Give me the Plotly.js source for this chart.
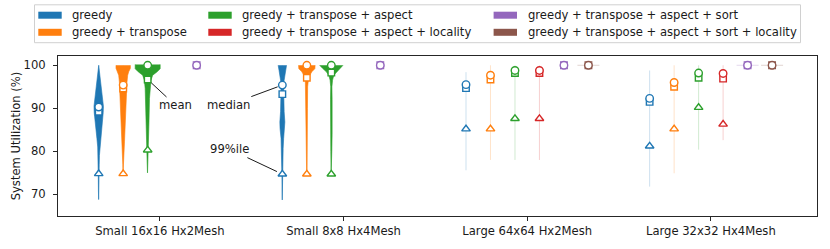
<!DOCTYPE html>
<html><head><meta charset="utf-8">
<script src="https://cdn.plot.ly/plotly-3.0.1.min.js"></script>
<style>html,body{margin:0;padding:0;background:#fff;}#chart{width:830px;height:249px;}</style>
</head><body><div id="chart"></div>
<script>
// ---------------- data ----------------
const categories = ['Small 16x16 Hx2Mesh', 'Small 8x8 Hx4Mesh', 'Large 64x64 Hx2Mesh', 'Large 32x32 Hx4Mesh'];
const seriesNames = [
  'greedy',
  'greedy + transpose',
  'greedy + transpose + aspect',
  'greedy + transpose + aspect + locality',
  'greedy + transpose + aspect + sort',
  'greedy + transpose + aspect + sort + locality'
];
const seriesColors = ['#1f77b4', '#ff7f0e', '#2ca02c', '#d62728', '#9467bd', '#8c564b'];
const seriesRGB = ['31,119,180', '255,127,14', '44,160,44', '214,39,40', '148,103,189', '140,86,75'];

// rows = series, cols = categories
const medians = [
  [90.3, 95.4, 95.5, 92.3],
  [95.4, 100, 97.7, 96.0],
  [100, 100, 98.8, 98.2],
  [null, null, 98.8, 98.1],
  [100, 100, 100, 100],
  [null, null, 100, 100]
];
const means = [
  [89.2, 93.3, 94.7, 91.5],
  [94.6, 97.1, 96.7, 95.0],
  [96.7, 98.3, 98.2, 97.1],
  [null, null, 98.2, 96.9],
  [100, 100, 100, 100],
  [null, null, 100, 100]
];
const p99s = [
  [74.8, 74.7, 85.2, 81.2],
  [74.8, 74.7, 85.2, 85.2],
  [80.3, 74.7, 87.6, 90.2],
  [null, null, 87.6, 86.3],
  [null, null, null, null],
  [null, null, null, null]
];
const mins = [
  [68.8, 68.7, 75.6, 71.8],
  [75.0, 74.7, 78.0, 74.9],
  [75.0, 74.7, 78.0, 80.4],
  [null, null, 78.0, 82.6],
  [100, 100, 100, 100],
  [null, null, 100, 100]
];
const maxs = [
  [100, 100, 98.4, 98.8],
  [100, 100, 100, 100],
  [100, 100, 100, 100],
  [null, null, 100, 100],
  [100, 100, 100, 100],
  [null, null, 100, 100]
];

// violin density profiles (small meshes)
const violinSeries = [0, 1, 2, 0, 1, 2];
const violinGroups = [0, 0, 0, 1, 1, 1];
const violinLevels = [
  [100, 98, 96, 94, 92, 90.5, 89, 87, 85, 83, 81, 79, 77, 74, 71, 68.8],
  [100, 99.3, 98.5, 97.7, 96.1, 92.3, 88.4, 85.4, 82.2, 79.1, 77, 75],
  [100.2, 99.2, 98.5, 97.7, 96.5, 94.6, 92.3, 86.8, 82.2, 78, 75],
  [100, 98.8, 97.7, 96.1, 94.6, 91.5, 89.2, 86.8, 85.3, 83, 80.7, 77, 74, 71, 68.7],
  [100, 99.2, 98.5, 97.7, 96.5, 95, 90, 85, 80, 75],
  [100, 99.2, 98.5, 97.7, 96.5, 95, 92, 88, 84, 80, 75]
];
const violinDensity = [
  [0, 0.9, 1.8, 2.9, 4.0, 4.7, 4.5, 3.8, 2.8, 1.8, 1.0, 0.7, 0.5, 0.4, 0.3, 0.1],
  [7.2, 7.2, 5.5, 4.5, 3.8, 3.3, 2.7, 2.0, 1.3, 0.7, 0.4, 0.15],
  [12.5, 12.5, 9.5, 5.0, 3.3, 2.5, 1.8, 1.3, 1.0, 0.6, 0.2],
  [4.2, 3.3, 2.2, 1.5, 1.3, 1.3, 1.8, 2.5, 2.3, 1.3, 0.8, 0.5, 0.4, 0.3, 0.1],
  [8.3, 8.0, 5.0, 3.0, 1.5, 0.8, 0.6, 0.6, 0.5, 0.2],
  [11.7, 8.3, 5.0, 2.5, 1.2, 0.6, 0.8, 1.0, 0.8, 0.5, 0.2]
];
// degenerate (constant) violins drawn as flat strokes: [series, group]
const flatViolins = [[5, 2], [4, 3], [5, 3]];
const flatDensity = 11;

// ---------------- layout helpers ----------------
const W = 830, H = 249;
const M = {l: 58, r: 13, t: 56, b: 33};
const PW = W - M.l - M.r, PH = H - M.t - M.b;
const XR = [-0.555, 3.578];
const YR = [64.97, 102.16];
const slot = 0.8 / seriesNames.length;
const densToX = (XR[1] - XR[0]) / PW; // density units are px-like
const pos = (g, s) => g + (s - (seriesNames.length - 1) / 2) * slot;
const px2x = px => (px - M.l) / PW;
const px2y = py => (M.t + PH - py) / PH;

const FONT = 'DejaVu Sans, Verdana, sans-serif';
const FS = 11.6;
const TXT = '#1a1a1a';
const traces = [];

// range (min-max) lines
for (let s = 0; s < seriesNames.length; s++) {
  const xs = [], ys = [];
  for (let g = 0; g < categories.length; g++) {
    if (mins[s][g] == null || mins[s][g] === maxs[s][g]) continue;
    xs.push(pos(g, s), pos(g, s), null);
    ys.push(mins[s][g], maxs[s][g], null);
  }
  traces.push({type: 'scatter', mode: 'lines', x: xs, y: ys, showlegend: false, hoverinfo: 'skip',
    line: {color: 'rgba(' + seriesRGB[s] + ',0.22)', width: 1}});
}
// flat violins
flatViolins.forEach(([s, g]) => {
  const c = pos(g, s), hw = flatDensity * densToX;
  traces.push({type: 'scatter', mode: 'lines', x: [c - hw, c + hw], y: [maxs[s][g], maxs[s][g]],
    showlegend: false, hoverinfo: 'skip', line: {color: 'rgba(' + seriesRGB[s] + ',0.25)', width: 1}});
});
// violins
violinLevels.forEach((lv, i) => {
  const s = violinSeries[i], g = violinGroups[i], c = pos(g, s);
  const dn = violinDensity[i];
  const xs = [], ys = [];
  for (let k = 0; k < lv.length; k++) { xs.push(c + dn[k] * densToX); ys.push(lv[k]); }
  for (let k = lv.length - 1; k >= 0; k--) { xs.push(c - dn[k] * densToX); ys.push(lv[k]); }
  traces.push({type: 'scatter', mode: 'lines', x: xs, y: ys, fill: 'toself', fillcolor: seriesColors[s],
    line: {color: seriesColors[s], width: 0.6}, showlegend: false, hoverinfo: 'skip'});
});
// markers: mean (square), median (circle), 99%ile (triangle)
const markerSets = [[means, 'square', 6.5], [medians, 'circle', 7.5], [p99s, 'triangle-up', 7.5]];
markerSets.forEach(([arr, sym, size]) => {
  for (let s = 0; s < seriesNames.length; s++) {
    const xs = [], ys = [];
    for (let g = 0; g < categories.length; g++) {
      if (arr[s][g] == null) continue;
      xs.push(pos(g, s)); ys.push(arr[s][g]);
    }
    traces.push({type: 'scatter', mode: 'markers', x: xs, y: ys, showlegend: false, name: seriesNames[s],
      marker: {symbol: sym, size: size, color: '#ffffff', line: {color: seriesColors[s], width: 1.4}}});
  }
});

// ---------------- legend (manual, matplotlib style) ----------------
const shapes = [];
const annotations = [];
shapes.push({type: 'rect', xref: 'paper', yref: 'paper', x0: px2x(34.5), x1: px2x(800.5), y0: px2y(42.7), y1: px2y(4.8),
  line: {color: '#d0d0d0', width: 1}, fillcolor: 'rgba(255,255,255,0.8)', layer: 'above'});
const legCols = [38.3, 208.3, 493.6];
const legRows = [15.2, 32.3];
for (let s = 0; s < seriesNames.length; s++) {
  const col = Math.floor(s / 2), row = s % 2;
  const x0 = legCols[col], yc = legRows[row];
  shapes.push({type: 'rect', xref: 'paper', yref: 'paper', x0: px2x(x0), x1: px2x(x0 + 23.4),
    y0: px2y(yc + 3.5), y1: px2y(yc - 3.5), fillcolor: seriesColors[s], line: {width: 0}, layer: 'above'});
  annotations.push({xref: 'paper', yref: 'paper', x: px2x(x0 + 32), y: px2y(yc), xanchor: 'left', yanchor: 'middle',
    text: seriesNames[s], showarrow: false, font: {family: FONT, size: FS, color: TXT}});
}

// ---------------- callouts ----------------
const callFont = {family: FONT, size: FS, color: TXT};
annotations.push({x: pos(0, 2), y: means[2][0], text: 'mean', ax: 28, ay: 26, showarrow: true, arrowhead: 0,
  arrowwidth: 1, arrowcolor: TXT, standoff: 5, font: callFont});
annotations.push({x: pos(1, 0), y: medians[0][1], text: 'median', ax: -54, ay: 20, showarrow: true, arrowhead: 0,
  arrowwidth: 1, arrowcolor: TXT, standoff: 5, font: callFont});
annotations.push({x: pos(1, 0), y: p99s[0][1], text: '99%ile', ax: -53, ay: -25, showarrow: true, arrowhead: 0,
  arrowwidth: 1, arrowcolor: TXT, standoff: 6, font: callFont});

const axisCommon = {showline: true, mirror: true, linecolor: '#262626', linewidth: 1, ticks: 'outside', ticklen: 4,
  tickwidth: 1, tickcolor: '#262626', showgrid: false, zeroline: false, tickfont: {family: FONT, size: FS, color: TXT}};

const layout = {
  width: W, height: H, margin: M, paper_bgcolor: '#fff', plot_bgcolor: '#fff', showlegend: false,
  font: {family: FONT, size: FS, color: TXT},
  xaxis: Object.assign({}, axisCommon, {range: XR, tickmode: 'array', tickvals: categories.map((_, i) => i), ticktext: categories}),
  yaxis: Object.assign({}, axisCommon, {range: YR, tickmode: 'array', tickvals: [70, 80, 90, 100], ticklabelstandoff: 5,
    title: {text: 'System Utilization (%)', font: {family: FONT, size: FS, color: TXT}, standoff: 0}}),
  shapes: shapes, annotations: annotations
};
Plotly.newPlot('chart', traces, layout, {staticPlot: true, displayModeBar: false});
</script></body></html>
